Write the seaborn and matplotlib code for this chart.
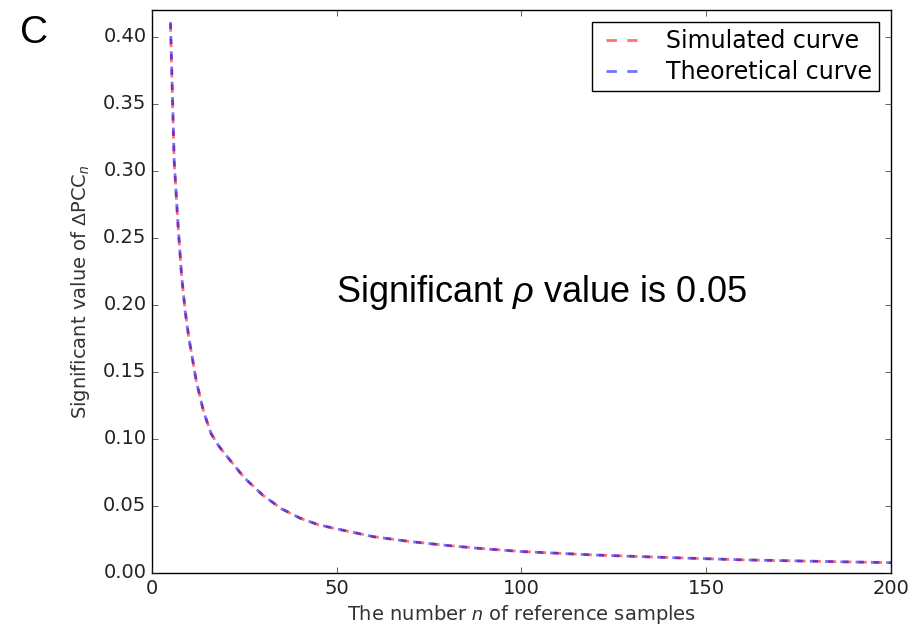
import numpy as np
import pandas as pd
import matplotlib
matplotlib.use("Agg")
import matplotlib.pyplot as plt
import seaborn as sns

# -----------------------------------
# Data
# -----------------------------------
n_samples = [5, 6, 7, 8, 9, 10, 12, 14, 16, 18, 20, 25, 30, 35, 40, 45,
             50, 60, 70, 80, 90, 100, 120, 140, 160, 180, 200]

simulated = [0.410, 0.307, 0.261, 0.222, 0.195, 0.175, 0.143, 0.120, 0.104,
             0.095, 0.088, 0.071, 0.058, 0.048, 0.041, 0.036, 0.0328, 0.0271,
             0.0234, 0.0205, 0.0181, 0.0160, 0.0134, 0.0115, 0.0098, 0.0087,
             0.0077]

theoretical = [0.411, 0.308, 0.262, 0.222, 0.195, 0.175, 0.143, 0.120, 0.104,
               0.095, 0.088, 0.071, 0.058, 0.048, 0.041, 0.036, 0.0330, 0.0270,
               0.0234, 0.0205, 0.0180, 0.0160, 0.0134, 0.0115, 0.0098, 0.0087,
               0.0077]

series_names = ["Simulated curve", "Theoretical curve"]
series_colors = ["red", "blue"]

df = pd.DataFrame({
    "n": n_samples * 2,
    "value": simulated + theoretical,
    "curve": [series_names[0]] * len(n_samples) + [series_names[1]] * len(n_samples),
})

# -----------------------------------
# Style
# -----------------------------------
plt.style.use("classic")
plt.rcParams["figure.facecolor"] = "white"
plt.rcParams["savefig.facecolor"] = "white"
plt.rcParams["lines.scale_dashes"] = False
plt.rcParams["font.family"] = ["DejaVu Sans"]
plt.rcParams["mathtext.fontset"] = "custom"
plt.rcParams["mathtext.it"] = "Liberation Sans:italic"
plt.rcParams["mathtext.rm"] = "Liberation Sans"

fig = plt.figure(figsize=(9.14, 6.28), dpi=100)
ax = fig.add_axes([0.1663, 0.0876, 0.8085, 0.8964])

# red dashes sit slightly behind the blue ones
dash_offsets = [0, 1.0]

for name, color, off in zip(series_names, series_colors, dash_offsets):
    sns.lineplot(
        data=df[df["curve"] == name],
        x="n",
        y="value",
        color=color,
        label=name,
        linestyle=(off, (6, 5)),
        linewidth=2,
        alpha=0.55,
        ax=ax,
    )

ax.set_xlim(0, 200)
ax.set_ylim(0, 0.42)
ax.set_xticks([0, 50, 100, 150, 200])
ax.set_yticks(np.arange(0, 0.41, 0.05))
ax.yaxis.set_major_formatter(matplotlib.ticker.FormatStrFormatter("%.2f"))
ax.tick_params(labelsize=14, colors="#222222")

ax.set_xlabel("The number $n$ of reference samples", fontsize=14,
              color="#333333", labelpad=4)
ax.set_ylabel("Significant value of $\\Delta$PCC$_n$", fontsize=14,
              color="#333333", labelpad=8)

leg = ax.legend(
    loc="upper right",
    fontsize=17,
    frameon=True,
    fancybox=False,
    borderaxespad=0.5,
    borderpad=0.3,
    labelspacing=0.3,
    handlelength=1.9,
    handletextpad=0.95,
)
leg.get_frame().set_edgecolor("black")
for h in leg.get_lines():
    h.set_linestyle((0, (7.5, 7.5)))

ax.text(
    105.5, 0.209,
    "Significant $\\rho$ value is 0.05",
    family="Liberation Sans",
    fontsize=26,
    ha="center",
    va="center",
)

fig.text(0.022, 0.947, "C", family="Liberation Sans", fontsize=28,
         ha="left", va="center")

plt.savefig("out.png", dpi=100)
